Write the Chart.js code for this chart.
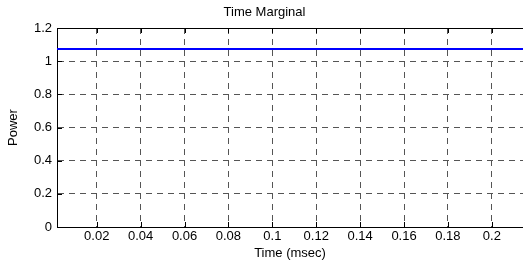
<!DOCTYPE html>
<html>
<head>
  <title>Time Marginal</title>
  <script src="https://cdn.jsdelivr.net/npm/chart.js"></script>
  <style>
    html, body { margin: 0; padding: 0; background: #fff; }
    #wrap { width: 523px; height: 263px; }
  </style>
</head>
<body>
  <div id="wrap"><canvas id="myChart"></canvas></div>
  <script>
    // values
    const times = [0.0019, 0.05, 0.1, 0.15, 0.2142];   // msec
    const power = [1.073, 1.073, 1.073, 1.073, 1.073];
    const xTicks = [0.02, 0.04, 0.06, 0.08, 0.1, 0.12, 0.14, 0.16, 0.18, 0.2];
    const yTicks = [0, 0.2, 0.4, 0.6, 0.8, 1, 1.2];
    const xMin = 0.0019, xMax = 0.2142;

    const FONT = { family: 'Liberation Sans, Arial, sans-serif', size: 13 };

    // solid frame on top and short inward tick marks (matlab style)
    const frame = {
      id: 'frame',
      afterDatasetsDraw(chart) {
        const c = chart.ctx, a = chart.chartArea;
        const x = chart.scales.x, y = chart.scales.y;
        c.save();
        c.strokeStyle = '#000';
        c.lineWidth = 1;
        c.beginPath();
        c.moveTo(a.left, Math.round(a.top) + 0.5);
        c.lineTo(a.right, Math.round(a.top) + 0.5);
        xTicks.forEach(v => {
          const px = Math.round(x.getPixelForValue(v)) + 0.5;
          c.moveTo(px, a.bottom); c.lineTo(px, a.bottom - 5);
          c.moveTo(px, a.top); c.lineTo(px, a.top + 5);
        });
        yTicks.forEach(v => {
          const py = Math.round(y.getPixelForValue(v)) + 0.5;
          c.moveTo(a.left, py); c.lineTo(a.left + 5, py);
        });
        c.stroke();
        c.restore();
      }
    };

    const gridColor = g => (g.tick && g.tick.value === 1.2) ? 'rgba(0,0,0,0)' : '#555';

    const ctx = document.getElementById('myChart').getContext('2d');
    new Chart(ctx, {
      type: 'line',
      data: {
        datasets: [{
          data: times.map((t, i) => ({ x: t, y: power[i] })),
          borderColor: '#0000ff',
          borderWidth: 2,
          pointRadius: 0,
          tension: 0
        }]
      },
      options: {
        responsive: true,
        maintainAspectRatio: false,
        animation: false,
        layout: { padding: { left: 6, right: 0, top: 0, bottom: 0 } },
        plugins: {
          legend: { display: false },
          tooltip: { enabled: false },
          title: {
            display: true,
            text: 'Time Marginal',
            color: '#000',
            font: { ...FONT, weight: 'normal' },
            padding: { top: 5, bottom: 7.4 }
          }
        },
        scales: {
          x: {
            type: 'linear',
            min: xMin,
            max: xMax,
            afterBuildTicks: s => { s.ticks = xTicks.map(v => ({ value: v })); },
            afterFit: s => { s.height = 36; },
            ticks: {
              color: '#000',
              font: FONT,
              padding: 2,
              maxRotation: 0,
              autoSkip: false,
              callback: v => String(+v.toFixed(2))
            },
            grid: { color: '#555', drawTicks: false },
            border: { display: true, color: '#000', width: 1, dash: [6, 5] },
            title: { display: true, text: 'Time (msec)', color: '#000', font: FONT, padding: { top: 0, bottom: 2 } }
          },
          y: {
            min: 0,
            max: 1.2,
            afterBuildTicks: s => { s.ticks = yTicks.map(v => ({ value: v })); },
            afterFit: s => { s.width = 51; },
            ticks: {
              color: '#000',
              font: FONT,
              padding: 5,
              autoSkip: false,
              callback: v => String(+v.toFixed(1))
            },
            grid: { color: gridColor, drawTicks: false },
            border: { display: true, color: '#000', width: 1, dash: [6, 5] },
            title: { display: true, text: 'Power', color: '#000', font: FONT, padding: { top: 0, bottom: 0 } }
          }
        }
      },
      plugins: [frame]
    });
  </script>
</body>
</html>
